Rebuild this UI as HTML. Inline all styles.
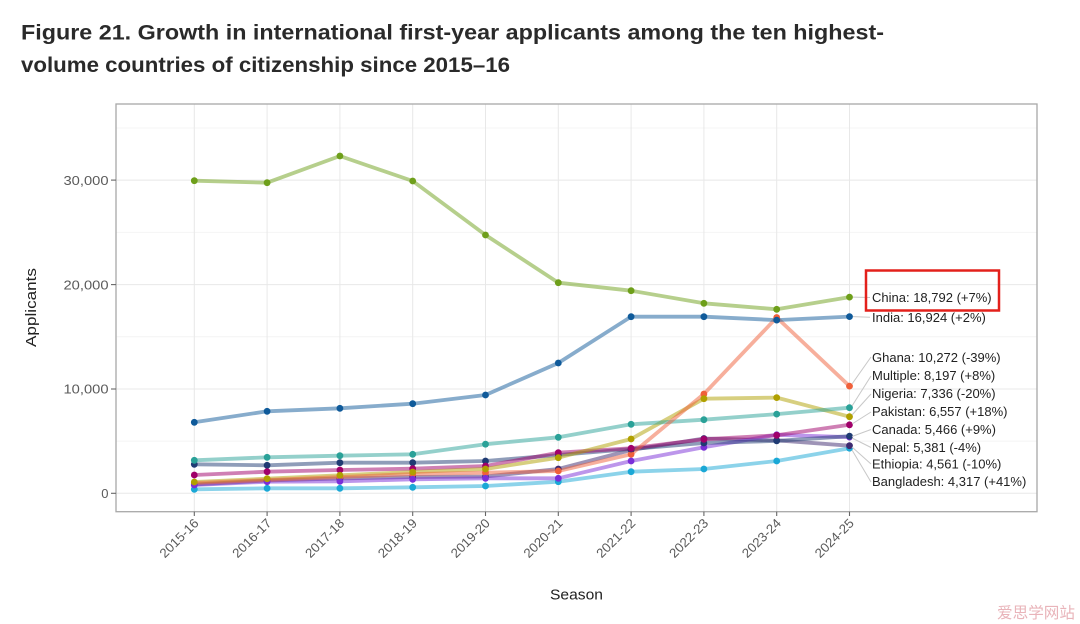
<!DOCTYPE html>
<html><head><meta charset="utf-8"><style>
html,body{margin:0;padding:0;background:#fff;}
svg{display:block;}
</style></head><body>
<svg width="1080" height="624" viewBox="0 0 1080 624" xmlns="http://www.w3.org/2000/svg" font-family="'Liberation Sans', Arial, sans-serif">
<rect width="1080" height="624" fill="#fff"/>
<text x="21" y="39.5" font-size="21.5" font-weight="bold" fill="#2a2a2a" textLength="863" lengthAdjust="spacingAndGlyphs">Figure 21. Growth in international first-year applicants among the ten highest-</text>
<text x="21" y="72" font-size="21.5" font-weight="bold" fill="#2a2a2a" textLength="489" lengthAdjust="spacingAndGlyphs">volume countries of citizenship since 2015–16</text>

<!-- grid -->
<g stroke="#f4f4f4" stroke-width="1">
<line x1="116" y1="441.1" x2="1037" y2="441.1"/><line x1="116" y1="336.8" x2="1037" y2="336.8"/><line x1="116" y1="232.4" x2="1037" y2="232.4"/><line x1="116" y1="128" x2="1037" y2="128"/>
</g>
<g stroke="#e8e8e8" stroke-width="1">
<line x1="116" y1="493.3" x2="1037" y2="493.3"/><line x1="116" y1="389" x2="1037" y2="389"/><line x1="116" y1="284.6" x2="1037" y2="284.6"/><line x1="116" y1="180.1" x2="1037" y2="180.1"/>
<line x1="194.3" y1="104" x2="194.3" y2="511.7"/><line x1="267.1" y1="104" x2="267.1" y2="511.7"/><line x1="339.9" y1="104" x2="339.9" y2="511.7"/><line x1="412.7" y1="104" x2="412.7" y2="511.7"/><line x1="485.5" y1="104" x2="485.5" y2="511.7"/><line x1="558.3" y1="104" x2="558.3" y2="511.7"/><line x1="631.1" y1="104" x2="631.1" y2="511.7"/><line x1="703.9" y1="104" x2="703.9" y2="511.7"/><line x1="776.7" y1="104" x2="776.7" y2="511.7"/><line x1="849.5" y1="104" x2="849.5" y2="511.7"/>
</g>
<rect x="116" y="104" width="921" height="407.7" fill="none" stroke="#a8a8a8" stroke-width="1.3"/>

<!-- ticks -->
<g stroke="#666" stroke-width="1.1">
<line x1="111" y1="493.3" x2="116" y2="493.3"/><line x1="111" y1="389" x2="116" y2="389"/><line x1="111" y1="284.6" x2="116" y2="284.6"/><line x1="111" y1="180.1" x2="116" y2="180.1"/>
<line x1="194.3" y1="511.7" x2="194.3" y2="516"/><line x1="267.1" y1="511.7" x2="267.1" y2="516"/><line x1="339.9" y1="511.7" x2="339.9" y2="516"/><line x1="412.7" y1="511.7" x2="412.7" y2="516"/><line x1="485.5" y1="511.7" x2="485.5" y2="516"/><line x1="558.3" y1="511.7" x2="558.3" y2="516"/><line x1="631.1" y1="511.7" x2="631.1" y2="516"/><line x1="703.9" y1="511.7" x2="703.9" y2="516"/><line x1="776.7" y1="511.7" x2="776.7" y2="516"/><line x1="849.5" y1="511.7" x2="849.5" y2="516"/>
</g>
<g font-size="13" fill="#5a5a5a" text-anchor="end">
<text x="108.5" y="498">0</text>
<text x="108.5" y="393.7" textLength="45" lengthAdjust="spacingAndGlyphs">10,000</text>
<text x="108.5" y="289.3" textLength="45" lengthAdjust="spacingAndGlyphs">20,000</text>
<text x="108.5" y="184.8" textLength="45" lengthAdjust="spacingAndGlyphs">30,000</text>
</g>
<g font-size="13" fill="#5a5a5a" text-anchor="end">
<text transform="translate(199.5,524) rotate(-45)" textLength="49" lengthAdjust="spacingAndGlyphs">2015-16</text>
<text transform="translate(272.3,524) rotate(-45)" textLength="49" lengthAdjust="spacingAndGlyphs">2016-17</text>
<text transform="translate(345.1,524) rotate(-45)" textLength="49" lengthAdjust="spacingAndGlyphs">2017-18</text>
<text transform="translate(417.9,524) rotate(-45)" textLength="49" lengthAdjust="spacingAndGlyphs">2018-19</text>
<text transform="translate(490.7,524) rotate(-45)" textLength="49" lengthAdjust="spacingAndGlyphs">2019-20</text>
<text transform="translate(563.5,524) rotate(-45)" textLength="49" lengthAdjust="spacingAndGlyphs">2020-21</text>
<text transform="translate(636.3,524) rotate(-45)" textLength="49" lengthAdjust="spacingAndGlyphs">2021-22</text>
<text transform="translate(709.1,524) rotate(-45)" textLength="49" lengthAdjust="spacingAndGlyphs">2022-23</text>
<text transform="translate(781.9,524) rotate(-45)" textLength="49" lengthAdjust="spacingAndGlyphs">2023-24</text>
<text transform="translate(854.7,524) rotate(-45)" textLength="49" lengthAdjust="spacingAndGlyphs">2024-25</text>
</g>
<text transform="translate(36,307.5) rotate(-90)" font-size="15" fill="#222" text-anchor="middle" textLength="79" lengthAdjust="spacingAndGlyphs">Applicants</text>
<text x="550" y="599.5" font-size="15" fill="#222" textLength="53" lengthAdjust="spacingAndGlyphs">Season</text>

<!-- lines -->
<g fill="none" stroke-width="3.8" stroke-linejoin="round" stroke-linecap="round" stroke-opacity="0.5">
<polyline stroke="#1aa8d6" points="194.3,489.3 267.1,488.3 339.9,488.3 412.7,487.3 485.5,486 558.3,481.7 631.1,471.7 703.9,469 776.7,461 849.5,448.2"/>
<polyline stroke="#3d2a70" points="194.3,484.5 267.1,480.5 339.9,478.5 412.7,477 485.5,476.5 558.3,469 631.1,450 703.9,438.5 776.7,440.4 849.5,445.7"/>
<polyline stroke="#7a2ed8" points="194.3,485 267.1,481.7 339.9,481.3 412.7,479.3 485.5,478.3 558.3,478.3 631.1,461 703.9,447.3 776.7,434.8 849.5,437.1"/>
<polyline stroke="#1f3b73" points="194.3,464.3 267.1,465.3 339.9,462.7 412.7,462.7 485.5,461 558.3,455 631.1,449 703.9,443 776.7,440.9 849.5,436.2"/>
<polyline stroke="#a0006a" points="194.3,475 267.1,471.7 339.9,470 412.7,468.7 485.5,466 558.3,452.7 631.1,448.3 703.9,439.3 776.7,435.3 849.5,424.8"/>
<polyline stroke="#b0a000" points="194.3,482 267.1,478.7 339.9,475.3 412.7,472 485.5,469 558.3,457.7 631.1,439 703.9,398.7 776.7,397.6 849.5,416.7"/>
<polyline stroke="#2aa198" points="194.3,460.3 267.1,457.3 339.9,455.7 412.7,454.3 485.5,444.2 558.3,437.3 631.1,424.3 703.9,419.7 776.7,414.1 849.5,407.7"/>
<polyline stroke="#f0603a" points="194.3,483 267.1,480 339.9,477 412.7,474 485.5,472.7 558.3,471 631.1,454.3 703.9,394 776.7,317.5 849.5,386.1"/>
<polyline stroke="#0f5a9a" points="194.3,422.3 267.1,411.3 339.9,408.3 412.7,403.7 485.5,395 558.3,363 631.1,316.7 703.9,316.7 776.7,320.1 849.5,316.6"/>
<polyline stroke="#6e9f1a" points="194.3,180.7 267.1,182.7 339.9,156 412.7,181 485.5,235 558.3,282.7 631.1,290.7 703.9,303.3 776.7,309.3 849.5,297.1"/>
</g>

<!-- points -->
<g>
<g fill="#1aa8d6"><circle cx="194.3" cy="489.3" r="3.4"/><circle cx="267.1" cy="488.3" r="3.4"/><circle cx="339.9" cy="488.3" r="3.4"/><circle cx="412.7" cy="487.3" r="3.4"/><circle cx="485.5" cy="486" r="3.4"/><circle cx="558.3" cy="481.7" r="3.4"/><circle cx="631.1" cy="471.7" r="3.4"/><circle cx="703.9" cy="469" r="3.4"/><circle cx="776.7" cy="461" r="3.4"/><circle cx="849.5" cy="448.2" r="3.4"/></g>
<g fill="#3d2a70"><circle cx="194.3" cy="484.5" r="3.4"/><circle cx="267.1" cy="480.5" r="3.4"/><circle cx="339.9" cy="478.5" r="3.4"/><circle cx="412.7" cy="477" r="3.4"/><circle cx="485.5" cy="476.5" r="3.4"/><circle cx="558.3" cy="469" r="3.4"/><circle cx="631.1" cy="450" r="3.4"/><circle cx="703.9" cy="438.5" r="3.4"/><circle cx="776.7" cy="440.4" r="3.4"/><circle cx="849.5" cy="445.7" r="3.4"/></g>
<g fill="#f0603a"><circle cx="194.3" cy="483" r="3.4"/><circle cx="267.1" cy="480" r="3.4"/><circle cx="339.9" cy="477" r="3.4"/><circle cx="412.7" cy="474" r="3.4"/><circle cx="485.5" cy="472.7" r="3.4"/><circle cx="558.3" cy="471" r="3.4"/><circle cx="631.1" cy="454.3" r="3.4"/><circle cx="703.9" cy="394" r="3.4"/><circle cx="776.7" cy="317.5" r="3.4"/><circle cx="849.5" cy="386.1" r="3.4"/></g>
<g fill="#7a2ed8"><circle cx="194.3" cy="485" r="3.4"/><circle cx="267.1" cy="481.7" r="3.4"/><circle cx="339.9" cy="481.3" r="3.4"/><circle cx="412.7" cy="479.3" r="3.4"/><circle cx="485.5" cy="478.3" r="3.4"/><circle cx="558.3" cy="478.3" r="3.4"/><circle cx="631.1" cy="461" r="3.4"/><circle cx="703.9" cy="447.3" r="3.4"/><circle cx="776.7" cy="434.8" r="3.4"/><circle cx="849.5" cy="437.1" r="3.4"/></g>
<g fill="#1f3b73"><circle cx="194.3" cy="464.3" r="3.4"/><circle cx="267.1" cy="465.3" r="3.4"/><circle cx="339.9" cy="462.7" r="3.4"/><circle cx="412.7" cy="462.7" r="3.4"/><circle cx="485.5" cy="461" r="3.4"/><circle cx="558.3" cy="455" r="3.4"/><circle cx="631.1" cy="449" r="3.4"/><circle cx="703.9" cy="443" r="3.4"/><circle cx="776.7" cy="440.9" r="3.4"/><circle cx="849.5" cy="436.2" r="3.4"/></g>
<g fill="#a0006a"><circle cx="194.3" cy="475" r="3.4"/><circle cx="267.1" cy="471.7" r="3.4"/><circle cx="339.9" cy="470" r="3.4"/><circle cx="412.7" cy="468.7" r="3.4"/><circle cx="485.5" cy="466" r="3.4"/><circle cx="558.3" cy="452.7" r="3.4"/><circle cx="631.1" cy="448.3" r="3.4"/><circle cx="703.9" cy="439.3" r="3.4"/><circle cx="776.7" cy="435.3" r="3.4"/><circle cx="849.5" cy="424.8" r="3.4"/></g>
<g fill="#b0a000"><circle cx="194.3" cy="482" r="3.4"/><circle cx="267.1" cy="478.7" r="3.4"/><circle cx="339.9" cy="475.3" r="3.4"/><circle cx="412.7" cy="472" r="3.4"/><circle cx="485.5" cy="469" r="3.4"/><circle cx="558.3" cy="457.7" r="3.4"/><circle cx="631.1" cy="439" r="3.4"/><circle cx="703.9" cy="398.7" r="3.4"/><circle cx="776.7" cy="397.6" r="3.4"/><circle cx="849.5" cy="416.7" r="3.4"/></g>
<g fill="#2aa198"><circle cx="194.3" cy="460.3" r="3.4"/><circle cx="267.1" cy="457.3" r="3.4"/><circle cx="339.9" cy="455.7" r="3.4"/><circle cx="412.7" cy="454.3" r="3.4"/><circle cx="485.5" cy="444.2" r="3.4"/><circle cx="558.3" cy="437.3" r="3.4"/><circle cx="631.1" cy="424.3" r="3.4"/><circle cx="703.9" cy="419.7" r="3.4"/><circle cx="776.7" cy="414.1" r="3.4"/><circle cx="849.5" cy="407.7" r="3.4"/></g>
<g fill="#0f5a9a"><circle cx="194.3" cy="422.3" r="3.4"/><circle cx="267.1" cy="411.3" r="3.4"/><circle cx="339.9" cy="408.3" r="3.4"/><circle cx="412.7" cy="403.7" r="3.4"/><circle cx="485.5" cy="395" r="3.4"/><circle cx="558.3" cy="363" r="3.4"/><circle cx="631.1" cy="316.7" r="3.4"/><circle cx="703.9" cy="316.7" r="3.4"/><circle cx="776.7" cy="320.1" r="3.4"/><circle cx="849.5" cy="316.6" r="3.4"/></g>
<g fill="#6e9f1a"><circle cx="194.3" cy="180.7" r="3.4"/><circle cx="267.1" cy="182.7" r="3.4"/><circle cx="339.9" cy="156" r="3.4"/><circle cx="412.7" cy="181" r="3.4"/><circle cx="485.5" cy="235" r="3.4"/><circle cx="558.3" cy="282.7" r="3.4"/><circle cx="631.1" cy="290.7" r="3.4"/><circle cx="703.9" cy="303.3" r="3.4"/><circle cx="776.7" cy="309.3" r="3.4"/><circle cx="849.5" cy="297.1" r="3.4"/></g>
</g>

<!-- leader lines -->
<g stroke="#c8c8c8" stroke-width="1">
<line x1="853" y1="297.1" x2="870" y2="297.5"/>
<line x1="853" y1="316.6" x2="870" y2="317.3"/>
<line x1="852" y1="384" x2="871" y2="357"/>
<line x1="852" y1="406" x2="871" y2="376"/>
<line x1="852" y1="415" x2="871" y2="394"/>
<line x1="852" y1="424" x2="871" y2="412"/>
<line x1="852" y1="436.5" x2="871" y2="429.5"/>
<line x1="852" y1="438" x2="871" y2="447.5"/>
<line x1="852" y1="447" x2="871" y2="464"/>
<line x1="852" y1="450" x2="871" y2="482"/>
</g>

<!-- labels -->
<g font-size="13" fill="#222">
<text x="872" y="302.2">China: 18,792 (+7%)</text>
<text x="872" y="321.8">India: 16,924 (+2%)</text>
<text x="872" y="361.8">Ghana: 10,272 (-39%)</text>
<text x="872" y="380.2">Multiple: 8,197 (+8%)</text>
<text x="872" y="397.8">Nigeria: 7,336 (-20%)</text>
<text x="872" y="416.2">Pakistan: 6,557 (+18%)</text>
<text x="872" y="433.8">Canada: 5,466 (+9%)</text>
<text x="872" y="451.8">Nepal: 5,381 (-4%)</text>
<text x="872" y="468.5">Ethiopia: 4,561 (-10%)</text>
<text x="872" y="486.2">Bangladesh: 4,317 (+41%)</text>
</g>

<rect x="866" y="270.5" width="133" height="40" fill="none" stroke="#e3201b" stroke-width="2.5"/>

<text x="997" y="618" font-size="15.6" fill="#e9b4ba" font-family="'Noto Sans CJK SC', 'WenQuanYi Zen Hei', sans-serif" textLength="78" lengthAdjust="spacingAndGlyphs">爱思学网站</text>
</svg>
</body></html>
